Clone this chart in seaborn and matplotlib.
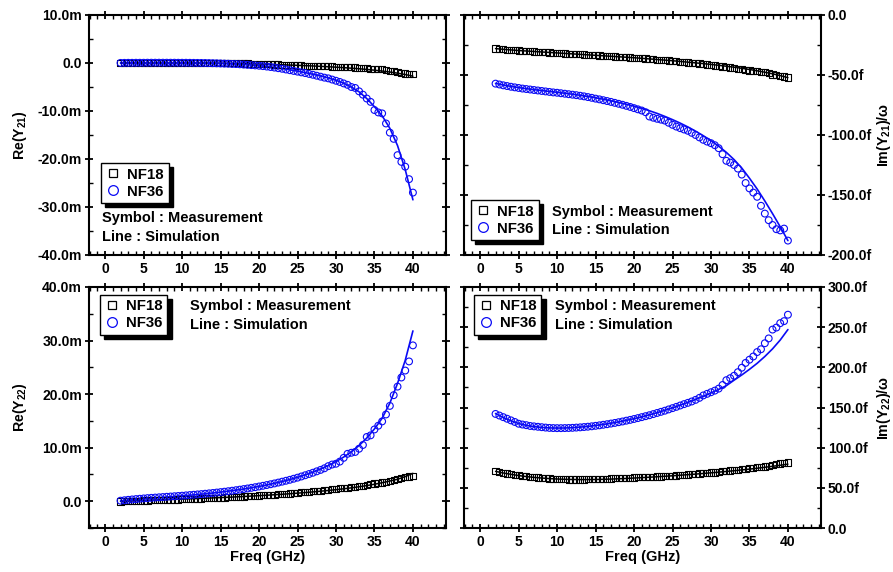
import numpy as np
import pandas as pd
import matplotlib
matplotlib.use("Agg")
import matplotlib.pyplot as plt
from matplotlib.lines import Line2D
from matplotlib.ticker import MultipleLocator, FuncFormatter
import seaborn as sns

# ---------------------------------------------------------------- data
# measured sweep: 2 GHz .. 40 GHz in 0.5 GHz steps
freq_meas = [2.0, 2.5, 3.0, 3.5, 4.0, 4.5, 5.0, 5.5, 6.0, 6.5,
             7.0, 7.5, 8.0, 8.5, 9.0, 9.5, 10.0, 10.5, 11.0, 11.5,
             12.0, 12.5, 13.0, 13.5, 14.0, 14.5, 15.0, 15.5, 16.0, 16.5,
             17.0, 17.5, 18.0, 18.5, 19.0, 19.5, 20.0, 20.5, 21.0, 21.5,
             22.0, 22.5, 23.0, 23.5, 24.0, 24.5, 25.0, 25.5, 26.0, 26.5,
             27.0, 27.5, 28.0, 28.5, 29.0, 29.5, 30.0, 30.5, 31.0, 31.5,
             32.0, 32.5, 33.0, 33.5, 34.0, 34.5, 35.0, 35.5, 36.0, 36.5,
             37.0, 37.5, 38.0, 38.5, 39.0, 39.5, 40.0]
# simulated curves: 2 GHz .. 40 GHz in 1 GHz steps
freq_sim = [2, 3, 4, 5, 6, 7, 8, 9, 10, 11, 12, 13, 14, 15, 16, 17, 18, 19, 20,
            21, 22, 23, 24, 25, 26, 27, 28, 29, 30, 31, 32, 33, 34, 35, 36, 37,
            38, 39, 40]

# Re(Y21) [mS]
re_y21_nf18_meas = [0.02, 0.03, 0.03, 0.04, 0.04, 0.05, 0.05, 0.05, 0.05, 0.06,
                    0.06, 0.06, 0.06, 0.06, 0.06, 0.06, 0.05, 0.05, 0.05, 0.04,
                    0.04, 0.03, 0.03, 0.02, 0.01, 0.00, -0.01, -0.02, -0.03, -0.05,
                    -0.06, -0.08, -0.10, -0.12, -0.15, -0.18, -0.20, -0.22, -0.25, -0.27,
                    -0.30, -0.33, -0.36, -0.40, -0.43, -0.46, -0.50, -0.52, -0.55, -0.58,
                    -0.60, -0.62, -0.65, -0.68, -0.70, -0.74, -0.78, -0.82, -0.86, -0.88,
                    -0.90, -0.95, -1.00, -1.05, -1.10, -1.18, -1.22, -1.25, -1.30, -1.50,
                    -1.60, -1.70, -1.95, -2.10, -2.20, -2.30, -2.35]
re_y21_nf36_meas = [0.02, 0.03, 0.04, 0.04, 0.05, 0.05, 0.05, 0.06, 0.06, 0.06,
                    0.06, 0.06, 0.06, 0.06, 0.06, 0.05, 0.05, 0.05, 0.04, 0.03,
                    0.02, 0.01, 0.00, -0.02, -0.04, -0.06, -0.09, -0.12, -0.15, -0.20,
                    -0.22, -0.27, -0.32, -0.38, -0.44, -0.50, -0.57, -0.65, -0.74, -0.84,
                    -0.95, -1.08, -1.20, -1.35, -1.50, -1.65, -1.80, -1.95, -2.10, -2.28,
                    -2.45, -2.65, -2.85, -3.05, -3.20, -3.45, -3.70, -3.95, -4.25, -4.55,
                    -5.00, -5.20, -5.90, -6.60, -7.40, -8.10, -9.80, -10.30, -10.50, -12.60,
                    -14.50, -15.80, -19.20, -20.60, -21.60, -24.20, -27.00]
re_y21_nf18_sim = [0.0, 0.0, 0.0, 0.0, 0.0, 0.0, 0.0, 0.0, 0.0, 0.0, 0.0, -0.01,
                   -0.02, -0.04, -0.07, -0.10, -0.14, -0.18, -0.22, -0.27, -0.32, -0.37,
                   -0.43, -0.49, -0.55, -0.62, -0.70, -0.78, -0.87, -0.97, -1.08, -1.20,
                   -1.34, -1.50, -1.68, -1.88, -2.12, -2.40, -2.75]
re_y21_nf36_sim = [0.0, 0.0, 0.0, 0.0, 0.0, 0.0, 0.0, 0.0, 0.0, -0.01, -0.01, -0.03,
                   -0.06, -0.10, -0.15, -0.22, -0.31, -0.42, -0.55, -0.72, -0.92, -1.15,
                   -1.42, -1.70, -2.00, -2.35, -2.70, -3.10, -3.60, -4.20, -5.00, -6.00,
                   -7.40, -9.10, -11.00, -13.60, -17.20, -22.20, -28.50]

# Im(Y21)/omega [fF]
im_y21_nf18_meas = [-28.0, -28.3, -28.6, -28.9, -29.1, -29.4, -29.6, -29.8, -30.0, -30.2,
                    -30.4, -30.6, -30.8, -31.0, -31.2, -31.4, -31.6, -31.8, -32.0, -32.2,
                    -32.4, -32.6, -32.8, -33.0, -33.2, -33.4, -33.6, -33.8, -34.0, -34.2,
                    -34.4, -34.6, -34.8, -35.0, -35.2, -35.4, -35.6, -35.8, -36.0, -36.3,
                    -36.6, -36.9, -37.2, -37.5, -37.8, -38.0, -38.3, -38.6, -38.9, -39.2,
                    -39.5, -39.8, -40.1, -40.4, -40.8, -41.2, -41.6, -42.0, -42.5, -43.0,
                    -43.4, -43.8, -44.2, -44.7, -45.2, -45.8, -46.3, -46.6, -46.9, -47.3,
                    -47.8, -48.5, -49.5, -50.3, -50.8, -51.2, -52.0]
im_y21_nf36_meas = [-57.2, -57.9, -58.6, -59.2, -59.8, -60.3, -60.8, -61.3, -61.7, -62.1,
                    -62.5, -62.9, -63.3, -63.7, -64.1, -64.5, -64.8, -65.2, -65.6, -66.0,
                    -66.4, -66.8, -67.3, -67.8, -68.4, -69.0, -69.7, -70.3, -71.0, -71.7,
                    -72.4, -73.2, -74.0, -74.8, -75.7, -76.6, -77.6, -78.6, -79.6, -81.0,
                    -84.6, -85.6, -86.5, -87.2, -88.0, -89.8, -91.5, -93.0, -94.3, -95.4,
                    -96.5, -98.2, -100.0, -102.0, -104.0, -105.5, -106.8, -108.5, -111.0, -116.0,
                    -121.5, -123.0, -125.0, -128.0, -133.0, -140.0, -144.5, -148.0, -151.5, -159.0,
                    -165.5, -171.0, -175.0, -178.5, -179.5, -178.0, -188.0]
im_y21_nf18_sim = [-28.0, -28.6, -29.1, -29.6, -30.0, -30.4, -30.8, -31.2, -31.6, -32.0,
                   -32.4, -32.8, -33.2, -33.6, -34.0, -34.4, -34.8, -35.2, -35.6, -36.1,
                   -36.6, -37.1, -37.6, -38.1, -38.7, -39.3, -39.9, -40.5, -41.2, -41.9,
                   -42.7, -43.5, -44.4, -45.4, -46.5, -47.7, -49.0, -50.5, -52.2]
im_y21_nf36_sim = [-57.0, -58.3, -59.5, -60.5, -61.4, -62.2, -63.0, -63.7, -64.4, -65.2,
                   -66.0, -66.9, -67.9, -69.0, -70.2, -71.5, -72.9, -74.4, -76.0, -77.8,
                   -79.8, -82.0, -84.5, -87.2, -90.1, -93.3, -96.8, -100.6, -104.7, -109.3,
                   -114.5, -120.5, -127.5, -136.0, -145.0, -155.0, -165.5, -176.5, -188.0]

# Re(Y22) [mS]
re_y22_nf18_meas = [-0.05, -0.02, 0.01, 0.04, 0.07, 0.10, 0.13, 0.15, 0.17, 0.19,
                    0.21, 0.23, 0.25, 0.27, 0.30, 0.33, 0.36, 0.39, 0.42, 0.45,
                    0.48, 0.51, 0.54, 0.57, 0.60, 0.63, 0.66, 0.70, 0.74, 0.78,
                    0.82, 0.86, 0.90, 0.94, 0.98, 1.02, 1.06, 1.10, 1.14, 1.18,
                    1.23, 1.28, 1.33, 1.38, 1.43, 1.50, 1.58, 1.65, 1.72, 1.79,
                    1.85, 1.92, 1.98, 2.05, 2.15, 2.25, 2.35, 2.40, 2.45, 2.52,
                    2.60, 2.70, 2.80, 2.90, 3.00, 3.15, 3.30, 3.40, 3.50, 3.60,
                    3.75, 3.90, 4.10, 4.30, 4.45, 4.60, 4.75]
re_y22_nf36_meas = [0.10, 0.18, 0.26, 0.33, 0.40, 0.46, 0.52, 0.58, 0.63, 0.68,
                    0.73, 0.78, 0.83, 0.88, 0.93, 0.98, 1.03, 1.09, 1.15, 1.21,
                    1.27, 1.33, 1.40, 1.47, 1.54, 1.62, 1.70, 1.78, 1.87, 1.96,
                    2.06, 2.16, 2.27, 2.38, 2.50, 2.62, 2.75, 2.88, 3.02, 3.17,
                    3.32, 3.48, 3.65, 3.82, 4.00, 4.20, 4.40, 4.62, 4.85, 5.08,
                    5.32, 5.58, 5.85, 6.15, 6.55, 6.85, 7.00, 7.40, 8.10, 8.85,
                    9.05, 9.20, 9.80, 10.50, 12.00, 12.30, 13.40, 14.10, 14.90, 16.20,
                    17.80, 19.80, 21.40, 23.10, 24.40, 26.10, 29.10]
re_y22_nf18_sim = [-0.05, 0.02, 0.09, 0.15, 0.20, 0.25, 0.30, 0.35, 0.40, 0.45,
                   0.50, 0.56, 0.62, 0.68, 0.74, 0.81, 0.88, 0.96, 1.04, 1.12,
                   1.21, 1.30, 1.40, 1.51, 1.62, 1.74, 1.87, 2.01, 2.16, 2.32,
                   2.50, 2.70, 2.92, 3.17, 3.45, 3.77, 4.10, 4.60, 5.20]
re_y22_nf36_sim = [0.05, 0.20, 0.33, 0.45, 0.56, 0.67, 0.78, 0.89, 1.00, 1.12,
                   1.25, 1.39, 1.54, 1.70, 1.88, 2.07, 2.28, 2.51, 2.76, 3.04,
                   3.34, 3.68, 4.05, 4.46, 4.92, 5.43, 6.01, 6.66, 7.40, 8.25,
                   9.22, 10.40, 11.80, 13.50, 15.50, 18.30, 22.00, 26.30, 31.80]

# Im(Y22)/omega [fF]
im_y22_nf18_meas = [70.6, 69.5, 68.6, 67.8, 67.0, 66.2, 65.5, 64.9, 64.3, 63.8,
                    63.3, 62.8, 62.4, 62.0, 61.6, 61.3, 61.0, 60.8, 60.6, 60.5,
                    60.4, 60.4, 60.4, 60.5, 60.6, 60.7, 60.8, 61.0, 61.2, 61.4,
                    61.6, 61.8, 62.0, 62.2, 62.4, 62.6, 62.8, 63.0, 63.2, 63.4,
                    63.6, 63.8, 64.0, 64.2, 64.4, 64.6, 65.0, 65.4, 65.8, 66.2,
                    66.6, 67.0, 67.4, 67.8, 68.3, 68.8, 69.0, 69.2, 69.8, 70.5,
                    71.0, 71.5, 72.0, 72.6, 73.2, 73.8, 74.4, 75.0, 75.5, 76.0,
                    76.5, 77.2, 78.6, 79.5, 80.2, 80.8, 81.5]
im_y22_nf36_meas = [142.0, 140.0, 138.0, 136.0, 134.0, 132.0, 129.8, 128.8, 128.0, 127.0,
                    126.5, 126.0, 125.5, 125.0, 124.6, 124.4, 124.3, 124.3, 124.4, 124.5,
                    124.7, 125.0, 125.3, 125.7, 126.1, 126.6, 127.2, 127.8, 128.5, 129.2,
                    130.0, 130.8, 131.7, 132.6, 133.6, 134.6, 135.7, 136.8, 138.0, 139.2,
                    140.4, 141.8, 143.2, 144.6, 146.0, 147.6, 149.2, 150.8, 152.5, 154.2,
                    155.8, 157.5, 159.5, 162.0, 165.0, 167.0, 169.0, 171.0, 173.5, 178.0,
                    184.0, 186.5, 189.5, 194.0, 199.5, 205.5, 209.5, 213.5, 219.0, 222.5,
                    230.0, 236.0, 247.0, 249.5, 255.0, 257.5, 265.5]
im_y22_nf18_sim = [70.5, 68.5, 66.8, 65.3, 64.0, 63.0, 62.2, 61.5, 61.0, 60.6,
                   60.4, 60.3, 60.3, 60.4, 60.6, 60.9, 61.3, 61.7, 62.2, 62.7,
                   63.2, 63.8, 64.4, 65.0, 65.7, 66.4, 67.1, 67.9, 68.7, 69.5,
                   70.4, 71.3, 72.3, 73.3, 74.4, 75.6, 76.8, 78.1, 79.5]
im_y22_nf36_sim = [142.5, 137.5, 133.5, 130.0, 127.8, 126.2, 125.2, 124.6, 124.4, 124.5,
                   124.9, 125.6, 126.5, 127.6, 128.9, 130.4, 132.1, 134.0, 136.1, 138.4,
                   140.9, 143.6, 146.5, 149.6, 152.9, 156.4, 160.1, 164.0, 168.1, 172.5,
                   177.2, 184.0, 190.5, 197.5, 205.0, 213.5, 223.0, 234.0, 247.0]

device_labels = ["NF18", "NF36"]
x_ticks = [0, 5, 10, 15, 20, 25, 30, 35, 40]

# ---------------------------------------------------------------- style
sns.set_theme(style="ticks")
plt.rcParams["font.family"] = ["Liberation Sans", "DejaVu Sans"]
plt.rcParams["font.weight"] = "bold"
plt.rcParams["axes.unicode_minus"] = False
plt.rcParams["mathtext.fontset"] = "custom"
plt.rcParams["mathtext.rm"] = "Liberation Sans"
plt.rcParams["mathtext.it"] = "Liberation Sans"
plt.rcParams["mathtext.bf"] = "Liberation Sans:bold"
for key in ("text.color", "axes.labelcolor", "xtick.color", "ytick.color",
            "axes.edgecolor"):
    plt.rcParams[key] = "black"

BLUE = "#0a0af5"
BLACK = "#000000"
TICK_FS = 10.1
TEXT_FS = 10.5
LEG_FS = 10.8

fig = plt.figure(figsize=(8.93, 5.72), dpi=100)

W, H = 893.0, 572.0


def px_rect(x0, y0, x1, y1):
    return [x0 / W, 1 - y1 / H, (x1 - x0) / W, (y1 - y0) / H]


panels = [
    dict(rect=px_rect(89, 15, 446, 255), ylim=(-40, 10), major=10, minor=5, unit="m",
         meas=(re_y21_nf18_meas, re_y21_nf36_meas), sim=(re_y21_nf18_sim, re_y21_nf36_sim),
         ylabel=r"Re(Y$_{21}$)", right=False, xlabel=False,
         legend=(0.034, 0.383), note=(0.036, 0.155, 0.077)),
    dict(rect=px_rect(464, 15, 821, 255), ylim=(-200, 0), major=50, minor=25, unit="f",
         meas=(im_y21_nf18_meas, im_y21_nf36_meas), sim=(im_y21_nf18_sim, im_y21_nf36_sim),
         ylabel=r"Im(Y$_{21}$)/ω", right=True, xlabel=False,
         legend=(0.02, 0.229), note=(0.246, 0.178, 0.103)),
    dict(rect=px_rect(89, 287, 446, 528), ylim=(-5, 40), major=10, minor=5, unit="m",
         meas=(re_y22_nf18_meas, re_y22_nf36_meas), sim=(re_y22_nf18_sim, re_y22_nf36_sim),
         ylabel=r"Re(Y$_{22}$)", right=False, xlabel=True,
         legend=(0.031, 0.967), note=(0.283, 0.921, 0.843)),
    dict(rect=px_rect(464, 287, 821, 528), ylim=(0, 300), major=50, minor=25, unit="f",
         meas=(im_y22_nf18_meas, im_y22_nf36_meas), sim=(im_y22_nf18_sim, im_y22_nf36_sim),
         ylabel=r"Im(Y$_{22}$)/ω", right=True, xlabel=True,
         legend=(0.028, 0.967), note=(0.255, 0.921, 0.843)),
]


def make_fmt(unit):
    def _f(v, pos):
        if abs(v) < 1e-9:
            return "0.0"
        return f"{v:.1f}{unit}"
    return FuncFormatter(_f)


for p in panels:
    ax = fig.add_axes(p["rect"])
    nf18_meas, nf36_meas = p["meas"]
    nf18_sim, nf36_sim = p["sim"]

    sim_df = pd.DataFrame({"freq": freq_sim, "NF18": nf18_sim, "NF36": nf36_sim})
    meas_df = pd.DataFrame({"freq": freq_meas, "NF18": nf18_meas, "NF36": nf36_meas})

    # simulation curves
    sns.lineplot(data=sim_df, x="freq", y="NF18", ax=ax, color=BLACK, lw=1.1,
                 legend=False, zorder=2)
    sns.lineplot(data=sim_df, x="freq", y="NF36", ax=ax, color=BLUE, lw=1.2,
                 legend=False, zorder=2)
    # measured points
    sns.scatterplot(data=meas_df, x="freq", y="NF18", ax=ax, marker="s", s=20,
                    facecolors="none", edgecolors=BLACK, linewidths=0.8,
                    legend=False, zorder=3)
    sns.scatterplot(data=meas_df, x="freq", y="NF36", ax=ax, marker="o", s=24,
                    facecolors="none", edgecolors=BLUE, linewidths=0.8,
                    legend=False, zorder=3)

    ax.set_xlim(-2.1, 44.3)
    ax.set_ylim(*p["ylim"])
    ax.set_xticks(x_ticks)
    ax.xaxis.set_minor_locator(MultipleLocator(1))
    ax.yaxis.set_major_locator(MultipleLocator(p["major"]))
    ax.yaxis.set_minor_locator(MultipleLocator(p["minor"]))
    ax.yaxis.set_major_formatter(make_fmt(p["unit"]))

    for s in ax.spines.values():
        s.set_visible(True)
        s.set_linewidth(1.5)
        s.set_color("black")

    ax.tick_params(which="major", direction="inout", length=6, width=1.3,
                   top=True, bottom=True, left=True, right=True,
                   labelsize=TICK_FS, pad=2, colors="black")
    ax.tick_params(which="minor", direction="in", length=3, width=1.0,
                   top=True, bottom=True, left=True, right=True)
    if p["right"]:
        ax.tick_params(labelleft=False, labelright=True)
        ax.yaxis.set_label_position("right")
    else:
        ax.tick_params(labelleft=True, labelright=False)
    for lab in ax.get_xticklabels() + ax.get_yticklabels():
        lab.set_fontweight("bold")

    ax.set_ylabel(p["ylabel"], fontsize=TEXT_FS - 0.3, fontweight="bold")
    if p["right"]:
        ax.yaxis.set_label_coords(1.150, 0.5)
    else:
        ax.yaxis.set_label_coords(-0.168, 0.5)
    if p["xlabel"]:
        ax.set_xlabel("Freq (GHz)", fontsize=TEXT_FS, fontweight="bold", labelpad=1)
    else:
        ax.set_xlabel("")

    handles = [
        Line2D([], [], ls="none", marker="s", ms=6, mfc="none", mec=BLACK, mew=0.9),
        Line2D([], [], ls="none", marker="o", ms=7, mfc="none", mec=BLUE, mew=0.9),
    ]
    leg = ax.legend(handles, device_labels, loc="upper left",
                    bbox_to_anchor=p["legend"], bbox_transform=ax.transAxes,
                    borderaxespad=0, frameon=True, fancybox=False, framealpha=1,
                    shadow={"ox": 3, "oy": -3, "facecolor": "black",
                            "edgecolor": "black", "alpha": 1},
                    handlelength=1.0, handletextpad=0.45, borderpad=0.3,
                    labelspacing=0.2, prop={"size": LEG_FS, "weight": "bold"})
    leg.get_frame().set_edgecolor("black")
    leg.get_frame().set_linewidth(1.0)

    nx, ny1, ny2 = p["note"]
    ax.text(nx, ny1, "Symbol : Measurement", transform=ax.transAxes,
            fontsize=TEXT_FS, fontweight="bold", va="center", ha="left")
    ax.text(nx, ny2, "Line : Simulation", transform=ax.transAxes,
            fontsize=TEXT_FS, fontweight="bold", va="center", ha="left")

fig.savefig("out.png", dpi=100)
